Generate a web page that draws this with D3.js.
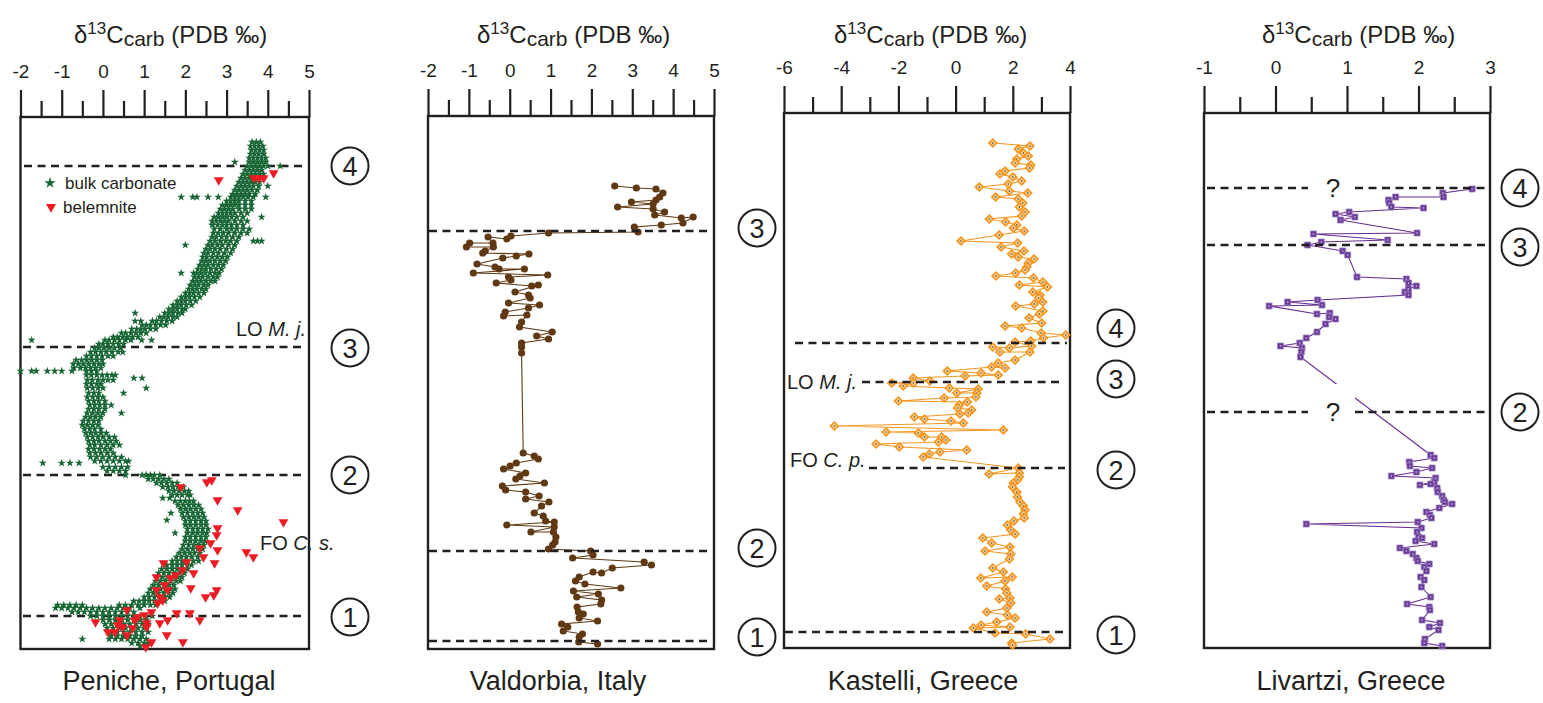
<!DOCTYPE html>
<html>
<head>
<meta charset="utf-8">
<script src="https://d3js.org/d3.v7.min.js"></script>
<style>
  body { margin: 0; background: #fff; }
  svg { display: block; }
  text { font-family: "Liberation Sans", Arial, sans-serif; fill: #231f20; }
</style>
</head>
<body>
<svg id="chart" width="1543" height="703"></svg>
<script>
// ---- data (height in m above base of section, d13C in permil) ----

// Peniche bulk carbonate: [height, [values at that level]]
const penicheBulk = [
  [50.7,[3.62,3.72,3.82]],
  [50.3,[3.58,3.68,3.78,3.88]],
  [49.9,[3.6,3.7,3.8,3.9]],
  [49.5,[3.58,3.68,3.78,3.9]],
  [49.1,[3.55,3.65,3.75,3.85,3.95]],
  [48.7,[3.2,3.55,3.65,3.75,3.85,3.95]],
  [48.3,[3.5,3.6,3.7,3.8,3.9,4.0,4.3]],
  [47.9,[3.45,3.55,3.65,3.75,3.85]],
  [47.5,[3.4,3.5,3.6,3.7,3.8,3.9]],
  [47.1,[3.35,3.45,3.55,3.65,3.75,3.85]],
  [46.7,[3.3,3.4,3.5,3.6,3.7,3.8]],
  [46.3,[3.25,3.35,3.45,3.55,3.65,3.78,4.0]],
  [45.9,[3.2,3.3,3.4,3.5,3.62,3.75]],
  [45.5,[3.15,3.25,3.35,3.45,3.55,3.7]],
  [45.2,[1.9,2.18,2.28,2.55,2.8,3.1,3.2,3.3,3.4,3.52,3.65,3.95]],
  [44.8,[3.0,3.1,3.2,3.3,3.45,3.6]],
  [44.4,[2.9,3.0,3.1,3.2,3.3,3.45,3.6]],
  [44.0,[2.85,2.95,3.05,3.15,3.3,3.45,3.6]],
  [43.6,[2.8,2.9,3.0,3.1,3.2,3.35,3.5]],
  [43.2,[2.7,2.8,2.9,3.0,3.12,3.25,3.4,3.85]],
  [42.8,[2.65,2.75,2.85,2.95,3.05,3.2,3.35,3.5]],
  [42.4,[2.65,2.78,2.9,3.0,3.12,3.25,3.4]],
  [42.0,[2.7,2.85,3.0,3.12,3.25,3.4,3.55]],
  [41.6,[2.68,2.8,2.92,3.05,3.2,3.35,3.5]],
  [41.2,[2.65,2.75,2.88,3.0,3.15,3.3]],
  [40.8,[2.6,2.72,2.85,2.98,3.1,3.25,3.65,3.75,3.85]],
  [40.4,[2.0,2.55,2.65,2.78,2.9,3.05,3.2]],
  [40.0,[2.5,2.6,2.72,2.85,3.0,3.15]],
  [39.6,[2.45,2.55,2.68,2.8,2.95,3.1]],
  [39.2,[2.42,2.52,2.65,2.78,2.9,3.02]],
  [38.8,[2.4,2.5,2.6,2.72,2.85,2.98]],
  [38.4,[2.35,2.45,2.55,2.68,2.8,2.92]],
  [38.0,[2.3,2.4,2.5,2.62,2.75,2.88]],
  [37.6,[1.9,2.2,2.28,2.38,2.48,2.6,2.72,2.82]],
  [37.2,[2.22,2.32,2.42,2.55,2.68,2.78]],
  [36.8,[2.18,2.28,2.38,2.5,2.62,2.72]],
  [36.4,[2.12,2.22,2.32,2.45,2.55]],
  [36.0,[2.08,2.18,2.28,2.4,2.5]],
  [35.6,[2.0,2.1,2.2,2.32,2.45]],
  [35.2,[1.9,2.0,2.1,2.22,2.35]],
  [34.8,[1.8,1.9,2.0,2.12,2.25]],
  [34.4,[1.7,1.8,1.9,2.02,2.15]],
  [34.0,[1.6,1.7,1.8,1.92,2.0]],
  [33.6,[0.78,1.5,1.6,1.7,1.82,1.92]],
  [33.2,[1.38,1.48,1.58,1.7,1.8]],
  [32.8,[0.78,0.92,1.2,1.3,1.42,1.55,1.68]],
  [32.4,[0.95,1.05,1.15,1.28,1.4,1.52]],
  [32.0,[0.7,0.82,0.92,1.02,1.15,1.28]],
  [31.6,[0.45,0.55,0.68,0.8,0.92,1.05]],
  [31.2,[0.25,0.35,0.48,0.6,0.72,0.85]],
  [30.9,[-1.73,0.05,0.15,0.28,0.4,0.55,0.68,0.94,1.18]],
  [30.5,[-0.1,0.0,0.12,0.25,0.38,0.5]],
  [30.1,[-0.2,-0.1,0.02,0.15,0.28,0.42]],
  [29.7,[-0.3,-0.18,-0.05,0.08,0.22,0.37,0.48]],
  [29.3,[-0.4,-0.28,-0.15,-0.02,0.12,0.25]],
  [28.9,[-0.65,-0.52,-0.4,-0.28,-0.15,-0.02]],
  [28.5,[-0.72,-0.6,-0.48,-0.35,-0.22,-0.1,0.0]],
  [28.1,[-0.7,-0.55,-0.42,-0.3,-0.18,-0.05]],
  [27.8,[-2.0,-1.73,-1.62,-1.35,-1.17,-1.0,-0.75,-0.4,-0.28,-0.15]],
  [27.4,[-0.4,-0.28,-0.15,-0.02,0.1,0.22,0.3]],
  [27.1,[0.75,0.95]],
  [26.9,[-0.38,-0.26,-0.12,0.0,0.12,0.25]],
  [26.5,[-0.4,-0.28,-0.15,-0.05]],
  [26.1,[-0.38,-0.25,-0.12,0.0,1.05]],
  [25.6,[-0.35,-0.22,-0.1,0.5]],
  [25.2,[-0.38,-0.25,-0.12,0.0]],
  [24.8,[-0.35,-0.22,-0.1,0.05]],
  [24.4,[-0.32,-0.2,-0.08,0.05,0.2]],
  [24.0,[-0.35,-0.22,-0.1,0.05]],
  [23.6,[-0.38,-0.25,-0.12,0.0,0.45]],
  [23.2,[-0.42,-0.3,-0.18,-0.05]],
  [22.8,[-0.48,-0.35,-0.22,-0.1]],
  [22.4,[-0.5,-0.38,-0.25,-0.12]],
  [22.0,[-0.45,-0.32,-0.2,-0.05]],
  [21.6,[-0.42,-0.3,-0.18,-0.05,0.08]],
  [21.2,[-0.38,-0.25,-0.12,0.0,0.15,0.28]],
  [20.8,[-0.35,-0.22,-0.1,0.05,0.18,0.32]],
  [20.4,[-0.32,-0.2,-0.05,0.1,0.25,0.4]],
  [20.0,[-0.35,-0.22,-0.08,0.05,0.18]],
  [19.6,[-0.32,-0.18,-0.05,0.1,0.25]],
  [19.2,[-0.3,-0.15,0.0,0.15,0.3,0.45]],
  [18.8,[-0.2,-0.05,0.1,0.25,0.4,0.55,0.62]],
  [18.6,[-1.46,-1.0,-0.8,-0.58]],
  [18.2,[0.0,0.15,0.3,0.45,0.6]],
  [17.8,[0.1,0.25,0.4,0.55]],
  [17.4,[0.55,0.95,1.05,1.15,1.25,1.38]],
  [17.0,[1.1,1.22,1.35,1.48,1.6]],
  [16.6,[1.3,1.42,1.55,1.68,1.8]],
  [16.2,[1.45,1.58,1.7,1.82,1.95]],
  [15.8,[1.6,1.72,1.85,1.98,2.08]],
  [15.4,[1.68,1.8,1.92,2.05,2.12]],
  [15.1,[1.45,1.62]],
  [14.8,[1.75,1.88,2.0,2.1,2.2]],
  [14.4,[1.82,1.95,2.08,2.2,2.32]],
  [14.0,[1.88,2.0,2.12,2.25,2.38]],
  [13.6,[1.65,1.92,2.05,2.18,2.3,2.42]],
  [13.2,[1.95,2.08,2.2,2.32,2.45]],
  [12.9,[1.55]],
  [12.8,[2.0,2.12,2.25,2.38,2.5]],
  [12.4,[2.0,2.12,2.25,2.38,2.5]],
  [12.0,[2.05,2.18,2.3,2.42,2.55]],
  [11.6,[1.75,2.05,2.18,2.3,2.42,2.52]],
  [11.2,[2.0,2.12,2.25,2.38,2.5]],
  [10.8,[2.0,2.12,2.25,2.38,2.48]],
  [10.4,[1.95,2.08,2.2,2.32,2.45]],
  [10.0,[1.92,2.05,2.18,2.3,2.42]],
  [9.6,[1.85,1.98,2.1,2.22,2.35]],
  [9.2,[1.78,1.9,2.02,2.15,2.3]],
  [8.8,[1.68,1.8,1.92,2.05,2.2,2.32]],
  [8.4,[1.55,1.68,1.8,1.92,2.05,2.15]],
  [8.0,[1.42,1.55,1.68,1.8,1.92,2.05]],
  [7.6,[1.35,1.48,1.6,1.72,1.85,1.98]],
  [7.2,[1.32,1.45,1.58,1.7,1.82,1.92]],
  [6.8,[1.28,1.4,1.52,1.65,1.78,1.88]],
  [6.4,[1.22,1.35,1.48,1.6,1.72]],
  [6.0,[1.15,1.28,1.4,1.52,1.65,1.75]],
  [5.6,[1.1,1.22,1.35,1.48,1.6,1.7]],
  [5.2,[1.0,1.12,1.25,1.38,1.5,1.62]],
  [4.8,[0.75,0.88,1.0,1.12,1.25,1.38,1.5]],
  [4.4,[-1.1,-0.95,-0.8,-0.65,-0.5,0.4,0.55,0.7,0.85,1.0,1.15,1.28]],
  [4.1,[-1.15,-1.0,-0.85,-0.7,-0.55,-0.4,-0.25,-0.1,0.05,0.2,0.35,0.5,0.65,0.9]],
  [3.7,[-0.75,-0.6,-0.45,-0.3,-0.15,0.0,0.15,0.3,0.45,0.6,0.75]],
  [3.3,[-0.3,-0.15,0.0,0.15,0.3,0.45,0.6,0.75,0.9,1.05,1.2]],
  [2.9,[0.0,0.15,0.3,0.45,0.6,0.75,0.9,1.05]],
  [2.5,[0.05,0.2,0.35,0.5,0.65,0.8,0.95,1.1]],
  [2.1,[0.1,0.25,0.4,0.55,0.7,0.85,1.0]],
  [1.7,[0.2,0.35,0.5,0.65,0.8,0.95,1.1]],
  [1.3,[0.2,0.35,0.5,0.65,0.8,0.95]],
  [1.0,[-0.5,0.15,0.3,0.45,0.6,0.75,0.9,1.05]],
  [0.6,[0.7,0.85,1.0,1.1]],
  [0.3,[0.9,1.05]]
];

// Peniche belemnites: [height, value]
const penicheBelemnite = [
  [46.9,2.81],[47.1,3.66],[47.1,3.78],[47.1,3.9],[47.6,4.14],
  [16.7,2.52],[16.9,2.64],[16.2,1.89],[14.9,2.78],[13.9,3.27],[12.7,4.38],
  [12.1,2.78],[11.4,2.76],[10.6,2.61],[10.1,2.35],[9.9,2.78],[9.7,3.48],
  [9.2,3.65],[9.2,2.44],[8.6,2.71],[8.6,1.47],[8.7,2.03],[7.9,1.93],
  [7.6,2.2],[7.4,1.77],[7.2,1.3],[7.1,1.64],[6.4,1.5],[6.1,2.13],[5.9,2.76],
  [5.4,2.69],[5.2,2.49],[5.9,1.57],[5.9,1.3],[5.2,1.38],[4.9,1.45],[4.6,1.33],
  [3.9,0.58],[3.7,1.18],[3.4,1.01],[3.6,1.79],[3.6,2.11],[2.9,2.35],[2.7,-0.18],
  [2.9,0.41],[2.9,0.77],[3.2,0.84],[2.6,1.06],[2.6,1.38],[2.9,1.57],[1.7,0.12],
  [1.7,0.29],[2.2,0.48],[1.4,0.58],[2.1,0.72],[2.2,1.06],[1.4,1.55],[0.7,1.94],
  [0.2,1.04],[0.7,1.18],[2.4,0.36]
];

// Valdorbia, top to base
const valdorbia = [
  [46.3,2.57],[46.1,3.1],[46.0,3.58],[45.6,3.75],[45.2,3.67],[44.9,3.58],[44.7,2.98],
  [44.5,3.51],[44.2,2.64],[44.0,3.51],[43.7,3.79],[43.4,3.55],[43.1,4.2],[43.2,4.49],
  [42.6,4.24],[42.4,3.71],[42.2,3.05],[41.7,3.14],[41.6,0.95],[41.3,0.03],[41.0,-0.07],
  [41.2,-0.53],[40.6,-0.41],[40.6,-0.98],[40.2,-1.06],[40.2,-0.4],[39.8,-0.6],[39.6,-0.66],
  [39.5,0.47],[39.3,0.16],[39.1,-0.17],[38.5,-0.8],[38.2,-0.36],[38.0,-0.26],[38.0,0.36],
  [37.6,-0.89],[37.4,0.93],[37.2,-0.03],[36.9,0.03],[36.6,-0.33],[36.3,0.54],[36.4,0.7],
  [35.7,0.13],[35.4,0.46],[35.1,0.5],[34.6,-0.03],[34.4,0.73],[34.1,0.46],[33.7,-0.11],
  [33.3,-0.15],[33.4,0.42],[32.7,0.29],[32.2,0.24],[31.7,1.04],[31.3,0.66],[31.0,0.95],
  [30.6,0.29],[30.2,0.29],[29.6,0.29],[19.6,0.33],[19.3,0.6],[19.0,0.7],[18.6,0.16],
  [18.3,0.01],[18.0,-0.15],[17.6,0.39],[17.3,0.25],[17.0,0.15],[16.6,0.85],[16.3,-0.18],
  [15.9,-0.1],[15.7,0.39],[15.3,0.72],[15.0,0.39],[14.7,0.96],[14.3,0.78],[13.6,0.6],
  [13.3,0.82],[12.8,0.88],[12.7,1.09],[12.4,-0.07],[12.2,1.09],[11.7,0.52],[11.7,1.07],
  [11.2,1.13],[10.7,1.11],[10.4,1.05],[10.0,0.95],[9.8,1.98],[9.4,2.04],[9.1,1.54],
  [8.7,3.29],[8.4,3.47],[8.1,2.51],[7.6,2.25],[7.7,2.04],[7.2,1.7],[6.8,1.61],[6.5,1.84],
  [6.1,2.72],[5.8,1.56],[5.5,2.17],[5.2,1.64],[4.9,2.25],[4.5,2.23],[4.2,1.65],[3.7,1.68],
  [3.5,1.8],[3.1,1.7],[2.8,2.15],[2.5,1.27],[2.2,1.42],[1.8,1.31],[1.5,1.78],[1.2,1.7],
  [0.7,1.69],[0.5,2.15]
];

// Kastelli, top to base
const kastelli = [
  [50.5,1.3],[50.2,2.6],[49.9,2.19],[49.5,2.37],[49.2,2.54],[48.9,2.14],[48.5,2.08],
  [48.3,2.63],[48.0,2.58],[47.7,1.73],[47.4,1.55],[47.1,2.0],[46.7,2.31],[46.4,1.84],
  [46.1,0.83],[45.7,1.88],[45.5,2.52],[45.1,1.4],[44.9,2.19],[44.5,2.35],[44.1,2.23],
  [43.6,2.43],[43.2,2.31],[42.9,1.18],[42.6,1.75],[42.3,2.14],[42.0,2.02],[41.7,2.4],
  [41.3,1.52],[40.7,0.19],[40.5,2.17],[40.1,1.59],[39.7,2.39],[39.4,1.96],[39.1,2.19],
  [38.9,2.74],[38.5,2.54],[38.1,2.49],[37.8,2.43],[37.5,2.1],[37.2,1.41],[37.0,2.72],
  [36.6,3.05],[36.3,2.23],[36.1,3.21],[35.6,2.7],[35.3,2.95],[35.0,2.9],[34.6,3.05],
  [34.4,2.75],[34.2,2.1],[33.7,3.05],[33.4,2.93],[33.0,2.57],[32.5,3.01],[32.2,1.73],
  [32.0,2.31],[31.5,2.99],[31.3,3.85],[31.0,3.07],[30.7,2.63],[30.6,2.08],[30.2,2.66],
  [30.0,1.88],[30.1,1.3],[29.6,1.55],[29.6,2.6],[28.8,2.08],[28.5,1.49],[28.0,1.73],
  [28.1,1.26],[27.7,-0.29],[27.5,0.89],[27.3,1.49],[27.2,0.33],[27.0,-1.48],[26.7,-0.9],
  [26.5,-2.23],[26.5,-1.48],[26.2,-1.83],[26.0,-0.22],[25.9,0.79],[25.5,0.04],[25.5,0.74],
  [25.1,0.71],[25.0,-0.4],[24.7,-2.0],[24.6,0.41],[24.3,0.13],[24.0,0.07],[23.8,0.56],
  [23.5,0.44],[23.4,0.15],[23.1,-1.44],[22.9,-1.09],[22.7,-0.16],[22.5,0.27],[22.2,-4.24],
  [21.8,1.67],[21.6,-2.43],[21.5,-1.3],[21.1,-1.09],[21.1,-0.49],[20.8,-0.34],[20.6,-0.6],
  [20.4,-2.78],[20.1,-1.97],[19.8,0.39],[19.6,-0.55],[19.4,-0.92],[19.1,-1.13],[18.0,2.19],
  [17.4,1.17],[17.5,2.23],[17.1,2.23],[16.8,2.16],[16.5,2.02],[16.1,1.99],[15.6,2.14],
  [15.1,2.16],[14.6,2.25],[14.2,2.37],[13.8,2.43],[13.4,2.37],[13.0,2.4],[12.7,2.04],
  [12.3,1.81],[11.8,1.93],[11.4,2.08],[11.0,0.95],[10.5,1.26],[10.1,1.9],[9.7,1.03],
  [9.4,1.93],[8.9,1.88],[8.0,1.3],[7.6,1.67],[7.0,0.88],[7.1,1.98],[6.7,1.73],[6.2,1.09],
  [5.9,1.75],[5.5,1.79],[5.0,1.9],[4.9,1.53],[4.5,1.93],[4.0,1.79],[3.6,1.09],[3.3,1.81],
  [3.0,2.08],[2.6,1.44],[2.3,0.89],[2.1,1.9],[2.0,0.62],[1.5,1.38],[1.4,2.45],[0.9,3.3],
  [0.5,1.96],[0.3,1.99]
];

// Livartzi, top to base
const livartzi = [
  [45.9,2.75],[45.5,2.34],[45.1,2.35],[45.1,1.68],[44.8,1.58],[44.5,1.59],[44.1,1.62],
  [44.0,2.07],[43.6,1.03],[43.4,0.84],[43.1,1.11],[42.8,0.91],[41.5,1.98],[41.4,0.53],
  [40.8,1.57],[40.6,0.64],[40.3,0.45],[39.7,0.94],[39.3,1.01],[37.1,1.14],[36.9,1.83],
  [36.5,1.86],[36.2,1.97],[35.9,1.86],[35.6,1.81],[35.3,1.86],[34.8,0.59],[34.6,0.17],
  [34.3,0.65],[34.2,-0.09],[33.4,0.58],[33.5,0.76],[33.1,0.75],[32.9,0.84],[32.4,0.7],
  [31.6,0.58],[31.0,0.43],[30.5,0.34],[30.2,0.07],[30.0,0.37],[29.6,0.36],[29.1,0.35],
  [19.3,2.17],[19.0,2.22],[18.6,1.87],[18.2,1.88],[18.0,2.19],[17.6,1.97],[17.2,1.62],
  [17.0,2.24],[16.6,2.22],[16.3,2.02],[16.4,2.17],[16.0,2.26],[15.6,2.27],[15.2,2.33],
  [14.8,2.35],[14.6,2.37],[14.4,2.47],[14.0,2.29],[13.6,2.11],[13.3,2.16],[13.0,2.18],
  [12.6,1.99],[12.4,0.43],[12.0,2.04],[11.6,1.98],[11.1,2.0],[11.0,2.05],[10.7,1.96],
  [10.4,2.22],[10.0,1.74],[9.7,1.83],[9.4,1.92],[9.0,1.97],[8.7,1.99],[8.4,2.15],[8.1,2.08],
  [7.7,2.11],[7.1,2.03],[6.8,2.08],[6.1,2.04],[5.1,2.17],[4.4,1.84],[4.1,2.15],[3.8,2.16],
  [2.8,2.05],[2.5,2.3],[2.1,2.15],[1.8,2.28],[0.9,2.09],[0.5,2.08],[0.2,2.33]
];

// zone boundaries (height) and their circled numbers
const penicheZones = [48.3, 30.2, 17.4, 3.3];
const penicheZoneLabels = ["4", "3", "2", "1"];
const valdorbiaZones = [41.8, 9.8, 0.8];
const valdorbiaZoneLabels = ["3", "2", "1"];
const kastelliZones = [30.5, 26.6, 18.0, 1.6];
const kastelliZoneLabels = ["4", "3", "2", "1"];
const livartziZones = [46.0, 40.3, 23.6];
const livartziZoneLabels = ["4", "3", "2"];

const svg = d3.select("#chart");
const ink = "#231f20";

function makePanel(p) {
  const g = svg.append("g");
  const x = d3.scaleLinear().domain(p.xDomain).range([p.left, p.right]);
  const y = d3.scaleLinear().domain([0, (p.bottom - p.top) / 10]).range([p.bottom, p.top]);

  // title
  const t = g.append("text").attr("x", p.titleX).attr("y", 43).style("font-size", "24px");
  t.append("tspan").text("δ");
  t.append("tspan").attr("dy", -9).style("font-size", "17px").text("13");
  t.append("tspan").attr("dy", 9).text("C");
  t.append("tspan").attr("dy", 3).style("font-size", "21px").text("carb");
  t.append("tspan").attr("dy", -3).text(" (PDB ‰)");

  // axis
  const majors = d3.range(p.xDomain[0], p.xDomain[1] + 1e-9, p.major);
  const minors = d3.range(p.xDomain[0] + p.major / 2, p.xDomain[1], p.major);
  const axG = g.append("g").attr("transform", `translate(0,${p.top})`);
  axG.append("g")
    .call(d3.axisTop(x).tickValues(majors).tickSize(27).tickPadding(12).tickFormat(d => String(d)))
    .attr("font-size", 19).attr("font-family", null)
    .call(s => s.select(".domain").remove())
    .call(s => s.selectAll("line").attr("stroke", ink).attr("stroke-width", 2.2))
    .call(s => s.selectAll("text").style("font-size", "19px").attr("fill", ink));
  axG.append("g")
    .call(d3.axisTop(x).tickValues(minors).tickSize(16).tickFormat(""))
    .call(s => s.select(".domain").remove())
    .call(s => s.selectAll("line").attr("stroke", ink).attr("stroke-width", 2.2));

  // frame
  g.append("rect")
    .attr("x", p.left).attr("y", p.top)
    .attr("width", p.right - p.left).attr("height", p.bottom - p.top)
    .attr("fill", "none").attr("stroke", ink).attr("stroke-width", 2.4);

  // section name
  g.append("text").attr("x", p.nameX).attr("y", 690)
    .attr("text-anchor", "middle").style("font-size", "27px").text(p.name);

  return { g, x, y };
}

function zoneLines(panel, zones, segs) {
  panel.g.append("g").selectAll("line")
    .data(zones.flatMap((h, i) => segs[i].map(s => ({ h, s }))))
    .join("line")
      .attr("x1", d => d.s[0]).attr("x2", d => d.s[1])
      .attr("y1", d => panel.y(d.h)).attr("y2", d => panel.y(d.h))
      .attr("stroke", ink).attr("stroke-width", 2.6).attr("stroke-dasharray", "8,5.5");
}

function zoneCircles(panel, zones, labels, cx, offsets) {
  const c = panel.g.append("g").selectAll("g")
    .data(zones.map((h, i) => ({ h, label: labels[i], dy: offsets ? offsets[i] : 0 })))
    .join("g")
      .attr("transform", d => `translate(${cx},${panel.y(d.h) + d.dy})`);
  c.append("circle").attr("r", 18.5).attr("fill", "#fff").attr("stroke", ink).attr("stroke-width", 2);
  c.append("text").attr("text-anchor", "middle").attr("dy", "0.36em")
    .style("font-size", "27px").text(d => d.label);
}

function connected(panel, data, color) {
  panel.g.append("path")
    .datum(data)
    .attr("fill", "none").attr("stroke", color).attr("stroke-width", 1.1)
    .attr("d", d3.line().x(d => panel.x(d[1])).y(d => panel.y(d[0])));
}

// ---------- Peniche ----------
const p1 = makePanel({ name: "Peniche, Portugal", left: 20.5, right: 309, top: 117, bottom: 649,
  xDomain: [-2, 5], major: 1, titleX: 74, nameX: 169 });
zoneLines(p1, penicheZones, [[[24, 305]], [[23, 303]], [[23, 304]], [[23, 303]]]);

const bulkPts = penicheBulk.flatMap(([h, vs]) => vs.map(v => [h, v]));
const star = d3.symbol(d3.symbolStar, 21);
p1.g.append("g").selectAll("path")
  .data(bulkPts).join("path")
    .attr("transform", d => `translate(${p1.x(d[1])},${p1.y(d[0])})`)
    .attr("d", star).attr("fill", "#176634");
const tri = d3.symbol(d3.symbolTriangle, 42);
p1.g.append("g").selectAll("path")
  .data(penicheBelemnite).join("path")
    .attr("transform", d => `translate(${p1.x(d[1])},${p1.y(d[0])}) rotate(180)`)
    .attr("d", tri).attr("fill", "#ec1c24");

// legend
p1.g.append("path").attr("transform", "translate(50,183)").attr("d", d3.symbol(d3.symbolStar, 40)).attr("fill", "#176634");
p1.g.append("text").attr("x", 65).attr("y", 189).style("font-size", "17px").text("bulk carbonate");
p1.g.append("path").attr("transform", "translate(51,207) rotate(180)").attr("d", d3.symbol(d3.symbolTriangle, 44)).attr("fill", "#ec1c24");
p1.g.append("text").attr("x", 63).attr("y", 213).style("font-size", "17px").text("belemnite");

const lo1 = p1.g.append("text").attr("x", 306).attr("y", 336).attr("text-anchor", "end").style("font-size", "20px");
lo1.append("tspan").text("LO ");
lo1.append("tspan").style("font-style", "italic").text("M. j.");
const fo1 = p1.g.append("text").attr("x", 260).attr("y", 550).style("font-size", "20px");
fo1.append("tspan").text("FO ");
fo1.append("tspan").style("font-style", "italic").text("C. s.");
zoneCircles(p1, penicheZones, penicheZoneLabels, 350, [0, 1, 0, 1]);

// ---------- Valdorbia ----------
const p2 = makePanel({ name: "Valdorbia, Italy", left: 428, right: 714, top: 116, bottom: 649,
  xDomain: [-2, 5], major: 1, titleX: 477, nameX: 558 });
connected(p2, valdorbia, "#603913");
p2.g.append("g").selectAll("circle")
  .data(valdorbia).join("circle")
    .attr("cx", d => p2.x(d[1])).attr("cy", d => p2.y(d[0]))
    .attr("r", 3.6).attr("fill", "#603913");
zoneLines(p2, valdorbiaZones, [[[429, 710]], [[429, 710]], [[429, 710]]]);
zoneCircles(p2, valdorbiaZones, valdorbiaZoneLabels, 757, [-3, -3, -4]);

// ---------- Kastelli ----------
const p3 = makePanel({ name: "Kastelli, Greece", left: 784, right: 1070, top: 113, bottom: 648,
  xDomain: [-6, 4], major: 2, titleX: 834, nameX: 923 });
connected(p3, kastelli, "#f7941d");
const dia = d3.symbol(d3.symbolSquare, 30);
const kG = p3.g.append("g").selectAll("g")
  .data(kastelli).join("g")
    .attr("transform", d => `translate(${p3.x(d[1])},${p3.y(d[0])})`);
kG.append("path").attr("d", dia).attr("transform", "rotate(45)")
  .attr("fill", "#fcd49c").attr("stroke", "#f7941d").attr("stroke-width", 1.7);
kG.append("circle").attr("r", 0.8).attr("fill", "#333");
zoneLines(p3, kastelliZones, [[[795, 1067]], [[862, 1063]], [[869, 1065]], [[785, 1067]]]);
const lo3 = p3.g.append("text").attr("x", 787).attr("y", 389).style("font-size", "20px");
lo3.append("tspan").text("LO ");
lo3.append("tspan").style("font-style", "italic").text("M. j.");
const fo3 = p3.g.append("text").attr("x", 790).attr("y", 467).style("font-size", "20px");
fo3.append("tspan").text("FO ");
fo3.append("tspan").style("font-style", "italic").text("C. p.");
zoneCircles(p3, kastelliZones, kastelliZoneLabels, 1116, [-15, -3, 2, 3]);

// ---------- Livartzi ----------
const p4 = makePanel({ name: "Livartzi, Greece", left: 1204, right: 1490, top: 113, bottom: 648,
  xDomain: [-1, 3], major: 1, titleX: 1262, nameX: 1351 });
connected(p4, livartzi, "#662d91");
p4.g.append("rect").attr("x", 1309).attr("y", 384).attr("width", 46).attr("height", 40).attr("fill", "#fff");
const sq = d3.symbol(d3.symbolSquare, 36);
const lG = p4.g.append("g").selectAll("g")
  .data(livartzi).join("g")
    .attr("transform", d => `translate(${p4.x(d[1])},${p4.y(d[0])})`);
lG.append("path").attr("d", sq).attr("fill", "#6a3a98").attr("stroke", "#9b7fc0").attr("stroke-width", 0.8);
lG.append("circle").attr("r", 0.8).attr("fill", "#d8d0e6");
zoneLines(p4, livartziZones, [[[1207, 1308], [1355, 1488]], [[1207, 1488]], [[1207, 1308], [1355, 1488]]]);
p4.g.append("g").selectAll("text")
  .data([livartziZones[0], livartziZones[2]]).join("text")
    .attr("x", 1333).attr("y", d => p4.y(d) + 9)
    .attr("text-anchor", "middle").style("font-size", "26px").text("?");
zoneCircles(p4, livartziZones, livartziZoneLabels, 1520, [0, 2, 0]);
</script>
</body>
</html>
